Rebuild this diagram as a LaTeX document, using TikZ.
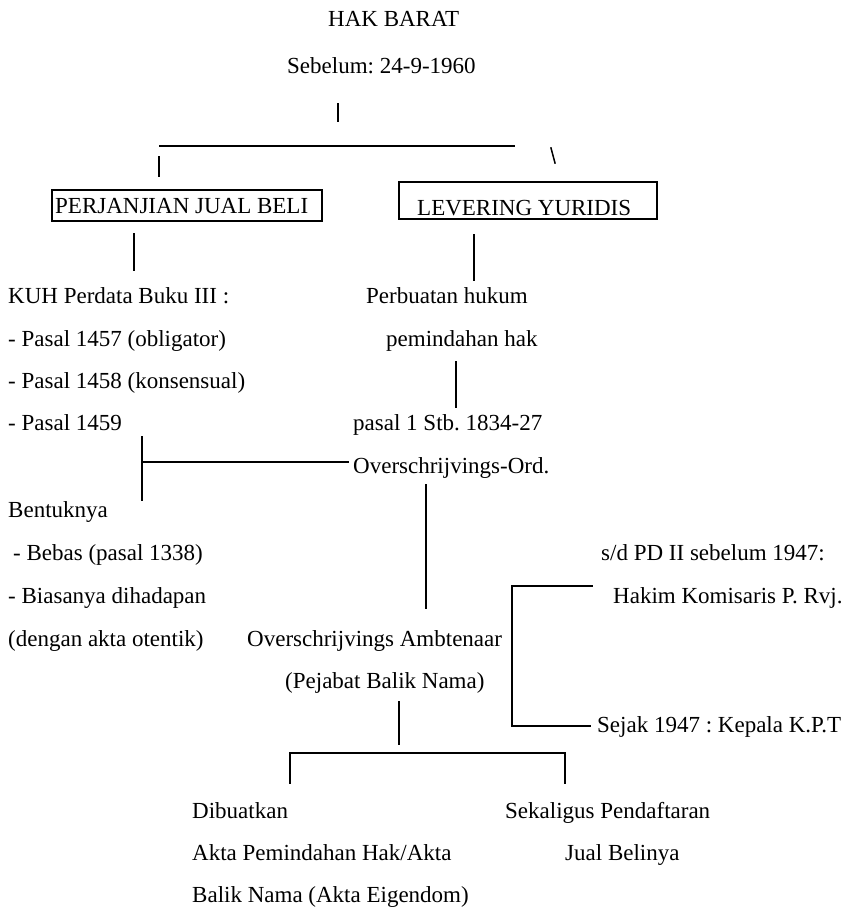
\documentclass[tikz,border=0pt]{standalone}
\usepackage{fontspec}
\setmainfont{Liberation Serif}
\begin{document}
\frenchspacing
\begin{tikzpicture}[x=1pt,y=-1pt,
  every node/.style={font=\fontsize{23}{27}\selectfont\frenchspacing, inner sep=0pt, anchor=base west},
  ln/.style={line width=1.5pt, line cap=rect},
  boxline/.style={line width=1.4pt}]
\useasboundingbox[fill=white] (0,0) rectangle (846,908);
% texts
\node (hak) at (328,26) {HAK BARAT};
\node (seb) at (287,73) {Sebelum: 24-9-1960};
\node (perj) at (55,213) {PERJANJIAN JUAL BELI};
\node (lev) at (417,215) {LEVERING YURIDIS};
\node (kuh) at (8,303) {KUH Perdata Buku III :};
\node (p57) at (8,346) {- Pasal 1457 (obligator)};
\node (p58) at (8,388) {- Pasal 1458 (konsensual)};
\node (p59) at (8,430) {- Pasal 1459};
\node (perb) at (366,303) {Perbuatan hukum};
\node (pemi) at (386,346) {pemindahan hak};
\node (stb) at (353,430) {pasal 1 Stb. 1834-27};
\node (ord) at (353,473) {Overschrijvings-Ord.};
\node (bent) at (8,517) {Bentuknya};
\node (bebas) at (13,560) {- Bebas (pasal 1338)};
\node (bias) at (8,603) {- Biasanya dihadapan};
\node (deng) at (8,646) {(dengan akta otentik)};
\node (amb) at (247,646) {Overschrijvings Ambtenaar};
\node (peja) at (285,688) {(Pejabat Balik Nama)};
\node (sd) at (601,560) {s/d PD II sebelum 1947:};
\node (hakim) at (613,603) {Hakim Komisaris P. Rvj.};
\node (sejak) at (597,732) {Sejak 1947 : Kepala K.P.T};
\node (dib) at (192,818) {Dibuatkan};
\node (akta) at (192,860) {Akta Pemindahan Hak/Akta};
\node (balik) at (192,902) {Balik Nama (Akta Eigendom)};
\node (sekal) at (505,818) {Sekaligus Pendaftaran};
\node (jual) at (565,860) {Jual Belinya};
% boxes
\draw[boxline] (52,190) rectangle (322,221);
\draw[boxline] (399,182) rectangle (657,219);
% connectors
\draw[ln] (338,104) -- (338,121);
\draw[ln] (160,146) -- (514,146);
\draw[ln] (159,157) -- (159,176);
\draw[ln] (551,148) -- (555,163);
\draw[ln] (134,234) -- (134,270);
\draw[ln] (474,235) -- (474,280);
\draw[ln] (456,362) -- (456,407);
\draw[ln] (142,437) -- (142,500);
\draw[ln] (142,462) -- (348,462);
\draw[ln] (426,485) -- (426,608);
\draw[ln] (592,586) -- (512,586) -- (512,726) -- (590,726);
\draw[ln] (399,702) -- (399,744);
\draw[ln] (290,783) -- (290,753) -- (565,753) -- (565,783);
\end{tikzpicture}
\end{document}
